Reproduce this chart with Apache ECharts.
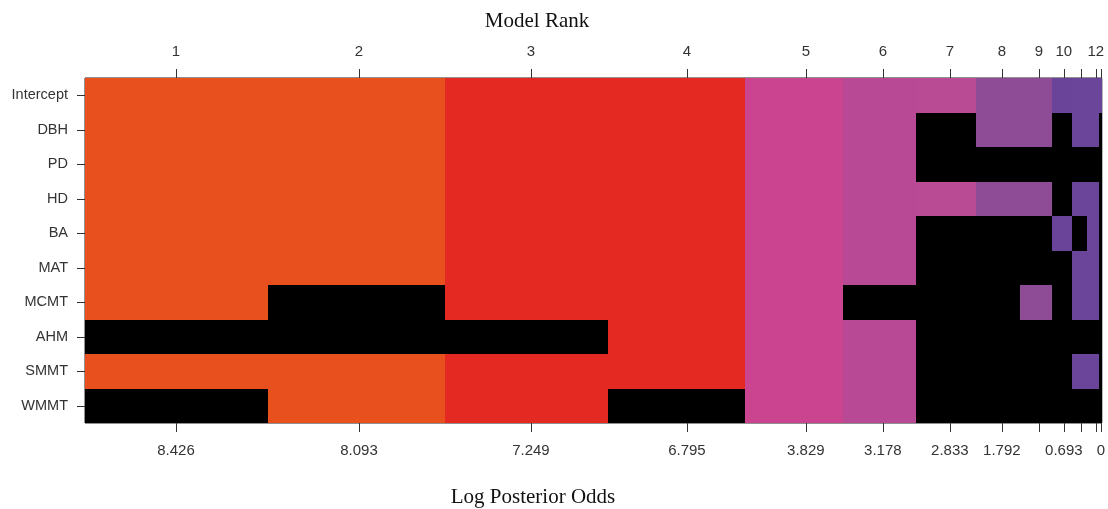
<!DOCTYPE html>
<html>
<head>
<meta charset="utf-8">
<script src="https://cdn.jsdelivr.net/npm/echarts@6/dist/echarts.min.js"></script>
<style>html,body{margin:0;padding:0;background:#fff;}#c{width:1108px;height:509px;}</style>
</head>
<body>
<div id="c"></div>
<script>
// ---- data ----
const variables = ['Intercept','DBH','PD','HD','BA','MAT','MCMT','AHM','SMMT','WMMT'];
// relative width (posterior weight) of each model column
const modelWidths = [183,177,163,137,98,73,60,44,32,20,15,12,3];
// tick positions along the cumulative model axis
const tickPos = [91,274,446,602,721,798,865,917,954,979,996,1011,1016];
const topLabels = ['1','2','3','4','5','6','7','8','9','10','','12',''];
const bottomLabels = ['8.426','8.093','7.249','6.795','3.829','3.178','2.833','1.792','','0.693','','','0'];
const modelColors = ['#E8511E','#E8511E','#E32922','#E32922','#CB4490','#B84A95','#B94A94','#8E4B96','#8E4B96','#6A4499','#6B459A','#6B459A','#6B459A'];
// inclusion matrix: one row per model, one entry per variable (1 = included, 0 = excluded)
const m01 = [1,1,1,1,1,1,1,0,1,0];
const m02 = [1,1,1,1,1,1,0,0,1,1];
const m03 = [1,1,1,1,1,1,1,0,1,1];
const m04 = [1,1,1,1,1,1,1,1,1,0];
const m05 = [1,1,1,1,1,1,1,1,1,1];
const m06 = [1,1,1,1,1,1,0,1,1,1];
const m07 = [1,0,0,1,0,0,0,0,0,0];
const m08 = [1,1,0,1,0,0,0,0,0,0];
const m09 = [1,1,0,1,0,0,1,0,0,0];
const m10 = [1,0,0,0,1,0,0,0,0,0];
const m11 = [1,1,0,1,0,1,1,0,1,0];
const m12 = [1,1,0,1,1,1,1,0,1,0];
const m13 = [1,0,0,0,0,0,0,0,0,0];
const inclusion = [m01,m02,m03,m04,m05,m06,m07,m08,m09,m10,m11,m12,m13];

// ---- build ----
const total = modelWidths.reduce((a,b)=>a+b,0);
const cells = [];
let acc = 0;
modelWidths.forEach((w,m)=>{
  inclusion[m].forEach((inc,r)=>{
    cells.push([acc, acc+w, r, inc, m]);
  });
  acc += w;
});
function labelFor(arr){
  return function(v){
    let best=-1,bd=1e9;
    tickPos.forEach((p,i)=>{const d=Math.abs(p-v); if(d<bd){bd=d;best=i;}});
    return bd<0.5 ? arr[best] : '';
  };
}
const sans = "'Liberation Sans', Arial, sans-serif";
const serif = "'Liberation Serif', 'Times New Roman', serif";
const chart = echarts.init(document.getElementById('c'), null, {renderer:'canvas'});
const xBase = {
  type:'value', min:0, max:total,
  splitLine:{show:false},
  axisLine:{show:false},
  axisTick:{show:true, customValues: tickPos, length:9, lineStyle:{color:'#333', width:1}},
  axisLabel:{show:true, customValues: tickPos, fontSize:15, fontFamily:sans, color:'#333', hideOverlap:false}
};
chart.setOption({
  animation:false,
  grid:{left:85, right:6, top:78, bottom:86, show:true, borderColor:'#222', borderWidth:1, backgroundColor:'transparent'},
  xAxis:[
    Object.assign({}, xBase, {position:'bottom', axisLabel:Object.assign({}, xBase.axisLabel, {margin:20, formatter:labelFor(bottomLabels)})}),
    Object.assign({}, xBase, {position:'top', axisLabel:Object.assign({}, xBase.axisLabel, {margin:19, formatter:labelFor(topLabels)})})
  ],
  yAxis:{
    type:'category', data:variables, inverse:true,
    axisLine:{show:false},
    axisTick:{show:true, alignWithLabel:true, length:8, lineStyle:{color:'#333'}},
    axisLabel:{fontSize:14.5, fontFamily:sans, color:'#333', margin:17},
    splitLine:{show:false}
  },
  graphic:[
    {type:'text', x:537, y:21, style:{text:'Model Rank', font:'21px '+serif, fill:'#111', textAlign:'center', textVerticalAlign:'middle'}},
    {type:'text', x:533, y:497, style:{text:'Log Posterior Odds', font:'21px '+serif, fill:'#111', textAlign:'center', textVerticalAlign:'middle'}}
  ],
  series:[{
    type:'custom',
    xAxisIndex:0, yAxisIndex:0,
    data:cells,
    encode:{x:[0,1], y:2},
    renderItem:function(params, api){
      const x0=api.value(0), x1=api.value(1), r=api.value(2), inc=api.value(3), m=api.value(4);
      const p0=api.coord([x0,r]), p1=api.coord([x1,r]);
      const h=api.size([0,1])[1];
      const col = inc ? modelColors[m] : '#000000';
      const left=Math.round(p0[0]), right=Math.round(p1[0]);
      const top=Math.round(p0[1]-h/2), bot=Math.round(p0[1]+h/2);
      return {type:'rect', shape:{x:left, y:top, width:right-left, height:bot-top},
        style:{fill:col}};
    },
    z:1
  }]
});
</script>
</body>
</html>
